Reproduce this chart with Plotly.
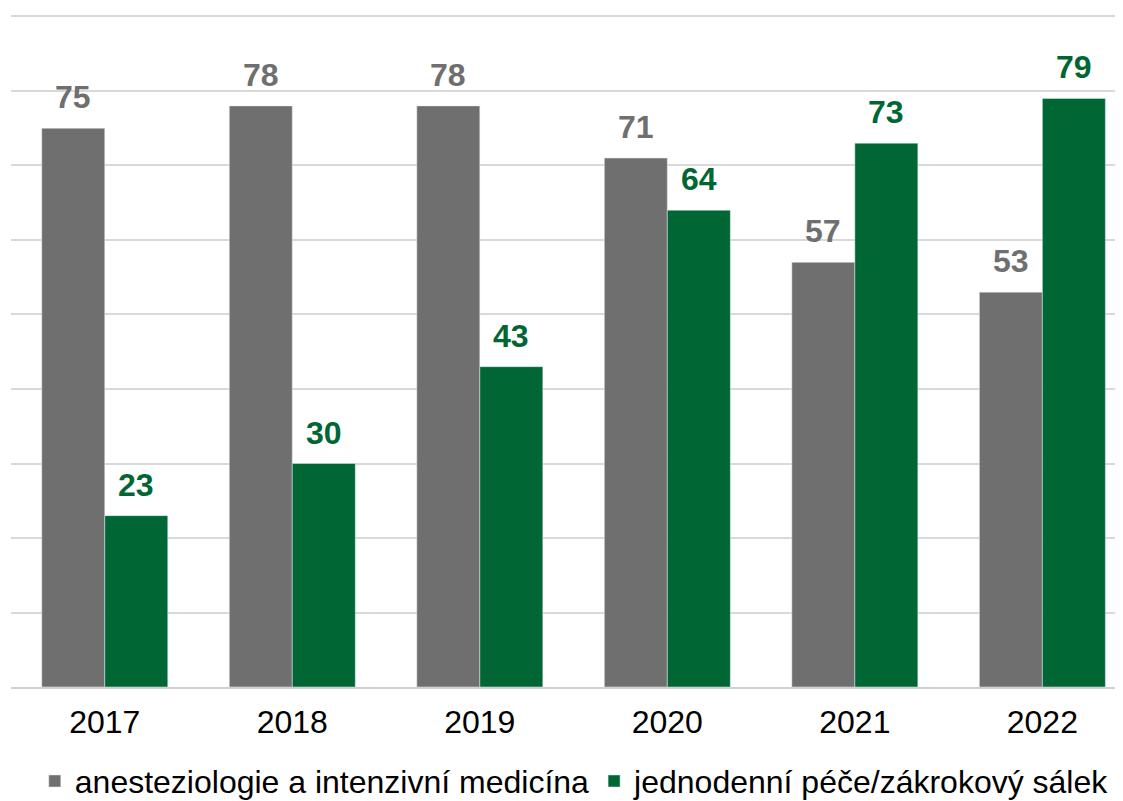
import plotly.graph_objects as go

years = ["2017", "2018", "2019", "2020", "2021", "2022"]
series_a_name = "anesteziologie a intenzivní medicína"
series_b_name = "jednodenní péče/zákrokový sálek"
series_a = [75, 78, 78, 71, 57, 53]
series_b = [23, 30, 43, 64, 73, 79]

grey = "#6f6f6f"
green = "#006633"
font_family = "Liberation Sans, Arial, sans-serif"
fs = 32

fig = go.Figure()
fig.add_trace(go.Bar(x=years, y=series_a, name=series_a_name, marker_color=grey))
fig.add_trace(go.Bar(x=years, y=series_b, name=series_b_name, marker_color=green))

annotations = []
for i, (va, vb) in enumerate(zip(series_a, series_b)):
    annotations.append(dict(x=i, y=va, xref="x", yref="y", text="<b>%d</b>" % va, showarrow=False,
                            xshift=-31.5, yshift=11, yanchor="bottom",
                            font=dict(family=font_family, size=fs, color=grey)))
    annotations.append(dict(x=i, y=vb, xref="x", yref="y", text="<b>%d</b>" % vb, showarrow=False,
                            xshift=31.5, yshift=11, yanchor="bottom",
                            font=dict(family=font_family, size=fs, color=green)))

fig.update_layout(
    width=1115, height=793,
    margin=dict(l=3, r=0, t=7, b=114, autoexpand=False),
    plot_bgcolor="white", paper_bgcolor="white",
    barmode="group", bargap=0.328, bargroupgap=0,
    font=dict(family=font_family, size=fs, color="black"),
    xaxis=dict(range=[-0.5, 5.43], showgrid=False, showline=True, linecolor="#d0d0d0", linewidth=2,
               ticks="outside", ticklen=6, tickcolor="rgba(0,0,0,0)", tickfont=dict(size=fs, color="black")),
    yaxis=dict(range=[0, 90.2], tickvals=[0, 10, 20, 30, 40, 50, 60, 70, 80, 90], showgrid=True,
               gridcolor="#d9d9d9", gridwidth=2, showticklabels=False, zeroline=False),
    legend=dict(orientation="h", x=0.507, xanchor="center", y=0.025, yanchor="middle", yref="container",
                font=dict(size=fs, color="black")),
    showlegend=True,
    annotations=annotations,
)

fig.write_html("out.html")
